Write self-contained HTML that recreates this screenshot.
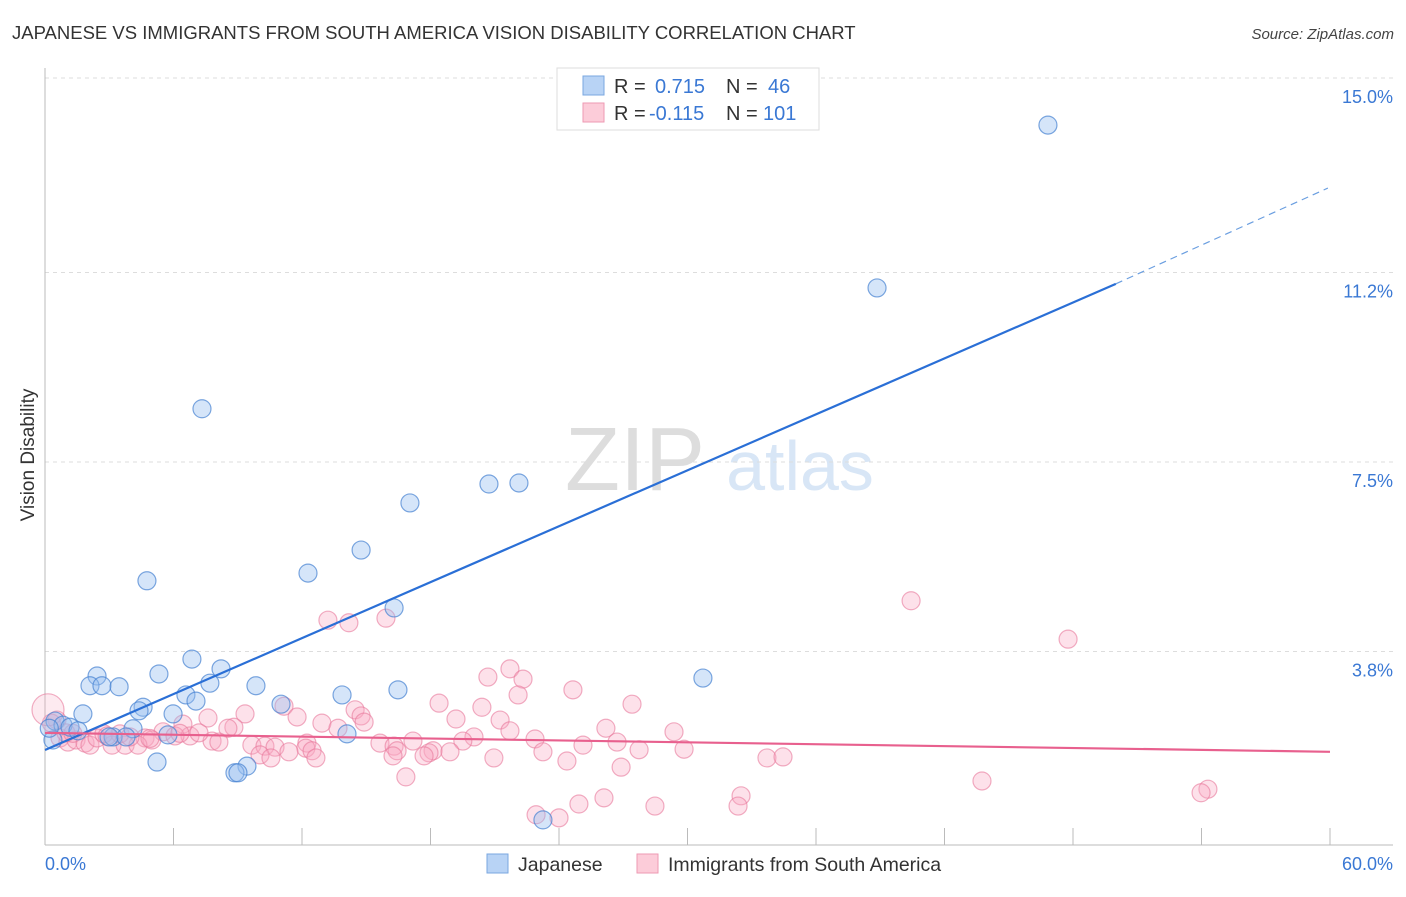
<!DOCTYPE html>
<html><head><meta charset="utf-8"><style>
body{margin:0;background:#fff;font-family:"Liberation Sans",sans-serif;}
svg text{font-family:"Liberation Sans",sans-serif;}
</style></head><body>
<svg id="chart" width="1406" height="892" xmlns="http://www.w3.org/2000/svg">
<text x="12" y="39" font-size="18.5" fill="#333">JAPANESE VS IMMIGRANTS FROM SOUTH AMERICA VISION DISABILITY CORRELATION CHART</text>
<text x="1394" y="39" font-size="15" fill="#444" text-anchor="end" font-style="italic">Source: ZipAtlas.com</text>
<g>
<text x="635" y="490" font-size="90" fill="#ddd" font-family="Liberation Serif" text-anchor="middle">ZIP</text>
<text x="800" y="490" font-size="70" fill="#d8e6f6" text-anchor="middle">atlas</text>
</g>
<g id="grid"></g>
<g id="axes"></g>
<g id="pts"></g>
<g id="trends"></g>
<text transform="translate(34,455) rotate(-90)" font-size="19" fill="#333" text-anchor="middle">Vision Disability</text>
<g>
<rect x="557" y="68" width="262" height="62" fill="#fff" stroke="#ddd"/>
<rect x="583" y="76" width="21" height="19" fill="#b8d3f5" stroke="#7aa7e0"/>
<text x="614" y="93" font-size="20" fill="#333">R =</text><text x="655" y="93" font-size="20" fill="#3a78d4">0.715</text>
<text x="726" y="93" font-size="20" fill="#333">N =</text><text x="768" y="93" font-size="20" fill="#3a78d4">46</text>
<rect x="583" y="103" width="21" height="19" fill="#fcccd9" stroke="#ee9ab3"/>
<text x="614" y="120" font-size="20" fill="#333">R =</text><text x="649" y="120" font-size="20" fill="#3a78d4">-0.115</text>
<text x="726" y="120" font-size="20" fill="#333">N =</text><text x="763" y="120" font-size="20" fill="#3a78d4">101</text>
</g>
<g>
<rect x="487" y="854" width="21" height="19" fill="#b8d3f5" stroke="#7aa7e0"/>
<text x="518" y="871" font-size="19.5" fill="#333">Japanese</text>
<rect x="637" y="854" width="21" height="19" fill="#fcccd9" stroke="#ee9ab3"/>
<text x="668" y="871" font-size="19.5" fill="#333">Immigrants from South America</text>
</g>
</svg>
<script>
const yTicks=[3.8,7.5,11.2,15.0];
const yTickLabels=["3.8%","7.5%","11.2%","15.0%"];
const xTickCount=10;
const blueX=[46.83,38.85,7.33,20.73,22.13,17.04,14.76,12.28,4.76,16.3,30.72,6.86,8.22,5.32,2.43,2.1,2.66,3.46,7.7,9.85,16.48,13.87,6.58,7.05,11.02,4.58,4.39,5.98,1.77,0.47,0.84,1.17,1.54,4.11,3.18,2.99,3.78,5.74,0.37,14.1,5.23,9.43,8.87,9.01,23.25,0.2];
const blueY=[14.08,10.9,8.54,7.07,7.09,6.70,5.78,5.33,5.18,4.65,3.28,3.65,3.46,3.36,3.32,3.13,3.13,3.11,3.18,3.13,3.05,2.95,2.95,2.83,2.77,2.71,2.64,2.58,2.58,2.44,2.36,2.32,2.25,2.29,2.13,2.13,2.13,2.17,2.07,2.19,1.64,1.56,1.43,1.43,0.51,2.3];
const pinkX=[40.44,47.77,13.21,14.19,15.92,21.71,20.68,22.32,24.65,22.09,27.41,18.4,20.4,11.16,14.48,14.76,9.34,7.61,11.77,19.19,21.25,14.9,12.93,26.19,29.37,8.82,13.68,6.44,8.54,21.71,20.03,22.88,19.51,17.18,15.64,12.23,7.8,8.12,5.51,4.67,4.99,6.77,6.07,7.19,9.66,10.27,10.74,12.18,16.3,16.44,18.12,26.71,25.12,27.74,29.84,23.25,11.39,12.47,10.04,10.55,12.65,17.93,18.91,17.7,16.25,20.96,24.37,26.9,33.71,34.46,16.85,43.75,54.3,53.98,32.5,32.36,26.1,24.93,28.48,22.93,24,0.7,1.07,1.45,1.87,2.1,2.43,3.13,3.74,4.34,0.56,0.98,2.75,3.5,3.97,0.3,1.3,2.9,4.9,6.3,0.14];
const pinkY=[4.79,4.04,4.41,4.36,4.45,3.46,3.30,3.26,3.05,2.95,2.77,2.79,2.71,2.73,2.66,2.54,2.58,2.50,2.52,2.48,2.46,2.42,2.40,2.30,2.23,2.32,2.30,2.38,2.30,2.25,2.13,2.09,2.05,2.05,2.01,2.01,2.05,2.03,2.23,2.11,2.07,2.15,2.15,2.21,1.97,1.95,1.93,1.91,1.95,1.86,1.86,2.03,1.97,1.88,1.89,1.84,1.84,1.86,1.78,1.72,1.72,1.82,1.84,1.76,1.76,1.72,1.66,1.54,1.72,1.74,1.35,1.27,1.11,1.04,0.98,0.78,0.94,0.82,0.78,0.61,0.55,2.11,2.03,2.07,2.01,1.97,2.11,1.97,1.97,1.97,2.46,2.21,2.19,2.19,2.13,2.4,2.2,2.15,2.1,2.2,2.66];
const blueTrend=[[0,1.875],[50,10.98],[59.9,12.85]];
const pinkTrend=[[0,2.21],[60,1.84]];
const NS="http://www.w3.org/2000/svg";
const X=v=>45+v*(1285/60), Y=v=>846-v*51.2;
function mk(t,a,p){const e=document.createElementNS(NS,t);for(const k in a)e.setAttribute(k,a[k]);p.appendChild(e);return e;}
const grid=document.getElementById('grid'),axes=document.getElementById('axes');
yTicks.forEach((v,i)=>{
 const l=mk('line',{x1:45,x2:1393,y1:Y(v),y2:Y(v),stroke:'#ddd','stroke-dasharray':'4,4'},grid);
 
 
 const t=mk('text',{x:1393,y:Y(v)+25,'font-size':18,fill:'#3a78d4','text-anchor':'end'},axes);
 t.textContent=yTickLabels[i];
 
 
});
mk('line',{x1:45,x2:45,y1:68,y2:845,stroke:'#bbb'},axes);
mk('line',{x1:45,x2:1393,y1:845,y2:845,stroke:'#bbb'},axes);
for(let i=1;i<=xTickCount;i++){const x=X(i*6);const tk=mk('line',{x1:x,x2:x,y1:828,y2:845,stroke:'#bbb'},axes);
 
 }
let t0=mk('text',{x:45,y:870,'font-size':18,fill:'#3a78d4'},axes);t0.textContent='0.0%';


let t1=mk('text',{x:1393,y:870,'font-size':18,fill:'#3a78d4','text-anchor':'end'},axes);t1.textContent='60.0%';


const pts=document.getElementById('pts');
pinkX.forEach((x,i)=>{const big=i==pinkX.length-1;const c=mk('circle',{cx:X(x),cy:Y(pinkY[i]),r:big?16:9,fill:big?'rgba(248,170,195,0.25)':'rgba(248,170,195,0.35)',stroke:'rgba(232,120,155,0.6)','stroke-width':1.2},pts);
 
 });
blueX.forEach((x,i)=>{const c=mk('circle',{cx:X(x),cy:Y(blueY[i]),r:9,fill:'rgba(150,190,240,0.4)',stroke:'rgba(70,130,210,0.7)','stroke-width':1.2},pts);
 
 });
const tr=document.getElementById('trends');
let b1=mk('line',{x1:X(blueTrend[0][0]),y1:Y(blueTrend[0][1]),x2:X(blueTrend[1][0]),y2:Y(blueTrend[1][1]),stroke:'#2a6fd6','stroke-width':2.2},tr);


let b2=mk('line',{x1:X(blueTrend[1][0]),y1:Y(blueTrend[1][1]),x2:X(blueTrend[2][0]),y2:Y(blueTrend[2][1]),stroke:'#6a9ee0','stroke-width':1.2,'stroke-dasharray':'7,5'},tr);


let p1=mk('line',{x1:X(pinkTrend[0][0]),y1:Y(pinkTrend[0][1]),x2:X(pinkTrend[1][0]),y2:Y(pinkTrend[1][1]),stroke:'#e8608e','stroke-width':2.2},tr);


</script>
</body></html>
